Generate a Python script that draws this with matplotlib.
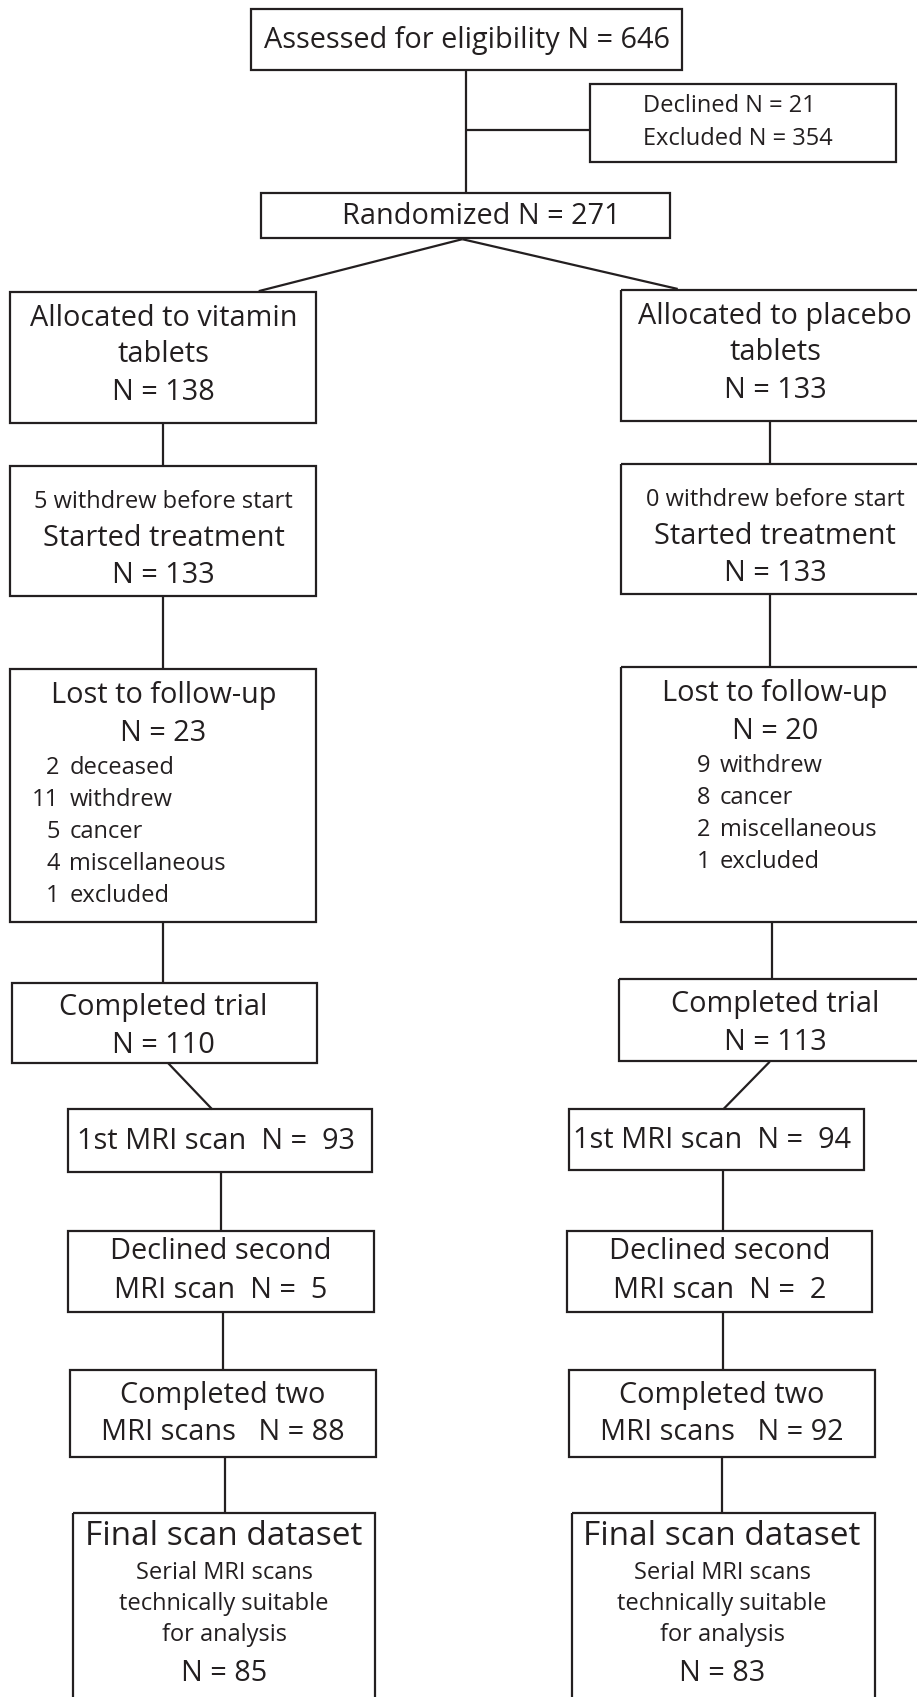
import matplotlib.pyplot as plt
from matplotlib.patches import Rectangle

plt.rcParams['font.family'] = ['Open Sans', 'DejaVu Sans']

# counts
assessed_n = 646
declined_n = 21
excluded_n = 354
randomized_n = 271

arms = ["vitamin", "placebo"]
allocated_n = [138, 133]
withdrew_before_n = [5, 0]
started_n = [133, 133]
lost_n = [23, 20]
lost_counts = [[2, 11, 5, 4, 1], [9, 8, 2, 1]]
lost_reasons = [["deceased", "withdrew", "cancer", "miscellaneous", "excluded"],
                ["withdrew", "cancer", "miscellaneous", "excluded"]]
completed_n = [110, 113]
mri1_n = [93, 94]
declined2_n = [5, 2]
mri2_n = [88, 92]
final_n = [85, 83]

W, H = 847, 1568  # drawing units (scaled to the figure)
fig = plt.figure(figsize=(9.17, 16.97), dpi=100)
ax = fig.add_axes([0, 0, 1, 1])
ax.set_xlim(0, W)
ax.set_ylim(H, 0)
ax.axis("off")

LW = 1.6
BIG = 20.8
SMALL = 17.0


def box(x0, y0, x1, y1):
    ax.add_patch(Rectangle((x0, y0), x1 - x0, y1 - y0, fill=False,
                           edgecolor="#231f20", lw=LW, clip_on=True))


def line(x0, y0, x1, y1):
    ax.plot([x0, x1], [y0, y1], color="#231f20", lw=LW, solid_capstyle="butt")


def txt(x, y, s, size=BIG, ha="center"):
    ax.text(x, y, s, fontsize=size, ha=ha, va="center", color="#231f20")


# top part
box(232, 8, 630, 65)
txt(431, 37, f"Assessed for eligibility N = {assessed_n}")
line(430, 65, 430, 178)
line(430, 120, 545, 120)
box(545, 78, 828, 150)
txt(594, 98, f"Declined N = {declined_n}", SMALL, "left")
txt(594, 128, f"Excluded N = {excluded_n}", SMALL, "left")
box(241, 178, 619, 220)
txt(445, 200, f"Randomized N = {randomized_n}")
line(427, 221, 239, 269)
line(427, 221, 626, 267)

# the two arms
cols = [
    dict(cx=151, bx=(9, 292), dy=0, lx=55, vx=151, b5=(63, 344), l5=204,
         b6=(63, 345), l6=206, b7=(65, 347), l7=208, b8=(67, 346), cx8=207,
         diag=(155, 982, 196, 1025), b4=(11, 293), l3=151),
    dict(cx=716, bx=(574, 860), dy=-2, lx=656, vx=711, b5=(526, 798), l5=668,
         b6=(524, 805), l6=668, b7=(526, 808), l7=667, b8=(528, 808), cx8=667,
         diag=(711, 981, 668, 1025), b4=(572, 860), l3=713),
]

for i, c in enumerate(cols):
    cx, dy, vx = c["cx"], c["dy"], c["vx"]
    x0, x1 = c["bx"]
    # allocated
    box(x0, 270 + dy, x1, 391 + dy)
    txt(cx, 294 + dy, f"Allocated to {arms[i]}")
    txt(cx, 328 + dy, "tablets")
    txt(cx, 363 + dy, f"N = {allocated_n[i]}")
    line(vx, 391 + dy, vx, 431 + dy)
    # started
    box(x0, 431 + dy, x1, 551 + dy)
    txt(cx, 464 + dy, f"{withdrew_before_n[i]} withdrew before start", SMALL)
    txt(cx, 498 + dy, "Started treatment")
    txt(cx, 532 + dy, f"N = {started_n[i]}")
    line(vx, 551 + dy, vx, 618 + dy)
    # lost to follow-up
    box(x0, 618 + dy, x1, 852)
    txt(cx, 643 + dy, "Lost to follow-up")
    txt(cx, 678 + dy, f"N = {lost_n[i]}")
    for k, (n, r) in enumerate(zip(lost_counts[i], lost_reasons[i])):
        y = 710 + dy + k * 29.5
        txt(c["lx"], y, str(n), SMALL, "right")
        txt(c["lx"] + 9, y, r, SMALL, "left")
    line(c["l3"], 852, c["l3"], 908 + 1.5 * dy)
    # completed trial
    b0, b1 = c["b4"]
    box(b0, 908 + 1.5 * dy, b1, 982 + dy)
    txt(cx, 931 + 1.5 * dy, "Completed trial")
    txt(cx, 966 + 1.5 * dy, f"N = {completed_n[i]}")
    line(*c["diag"][:2], *c["diag"][2:])
    # first MRI scan
    b0, b1 = c["b5"]
    box(b0, 1025, b1, 1083 + dy)
    txt((b0 + b1) / 2 - 4, 1055 + dy / 2, f"1st MRI scan  N =  {mri1_n[i]}")
    line(c["l5"], 1083 + dy, c["l5"], 1137)
    # declined second scan
    b0, b1 = c["b6"]
    box(b0, 1137, b1, 1212)
    txt((b0 + b1) / 2, 1156, "Declined second")
    txt((b0 + b1) / 2, 1192, f"MRI scan  N =  {declined2_n[i]}")
    line(c["l6"], 1212, c["l6"], 1266)
    # completed two scans
    b0, b1 = c["b7"]
    box(b0, 1266, b1, 1346)
    txt((b0 + b1) / 2, 1289, "Completed two")
    txt((b0 + b1) / 2, 1324, f"MRI scans   N = {mri2_n[i]}")
    line(c["l7"], 1346, c["l7"], 1398)
    # final dataset
    b0, b1 = c["b8"]
    box(b0, 1398, b1, 1600)
    cx8 = c["cx8"]
    txt(cx8, 1420, "Final scan dataset", 24)
    txt(cx8, 1453, "Serial MRI scans", 17)
    txt(cx8, 1482, "technically suitable", 17)
    txt(cx8, 1511, "for analysis", 17)
    txt(cx8, 1546, f"N = {final_n[i]}")

fig.savefig("out.png", dpi=100)
plt.close(fig)
